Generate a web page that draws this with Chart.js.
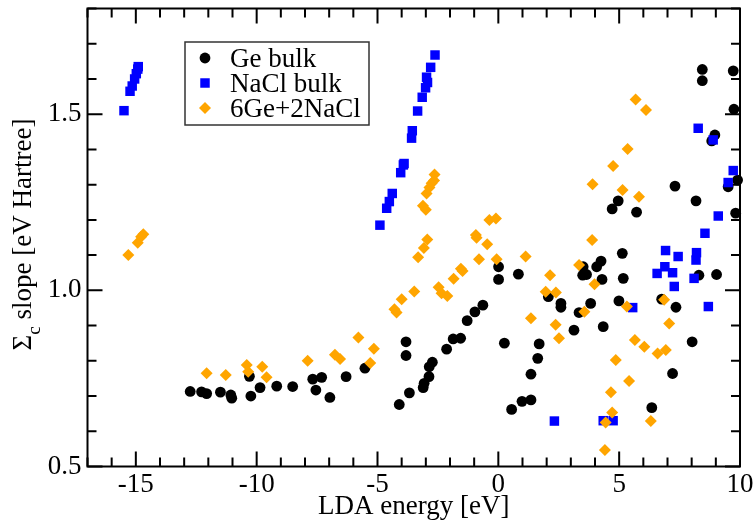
<!DOCTYPE html>
<html>
<head>
<meta charset="utf-8">
<script src="https://cdn.jsdelivr.net/npm/chart.js@4/dist/chart.umd.min.js"></script>
<style>
  html, body { margin: 0; padding: 0; background: #ffffff; }
  #wrap { width: 754px; height: 523px; }
</style>
</head>
<body>
<div id="wrap"><canvas id="c" width="754" height="523"></canvas></div>
<script>
// Series names
const seriesNames = ['Ge bulk', 'NaCl bulk', '6Ge+2NaCl'];

// Ge bulk: LDA energy [eV] and Sigma_c slope
const geX = [-12.75, -12.28, -12.07, -11.5, -11.07, -11.03, -10.24, -10.3, -9.86, -9.17,
  -8.51, -7.68, -7.31, -7.55, -6.97, -6.3, -5.52, -4.1, -3.68, -3.11,
  -3.07, -2.87, -2.86, -2.73, -3.82, -3.82, -2.14, -1.87, -1.56, -1.29,
  -0.97, -0.64, 0.01, 0.01, 0.25, 0.83, 0.55, 0.98, 1.35, 1.35,
  1.63, 1.69, 2.07, 2.59, 2.59, 3.13, 3.34, 3.51, 3.49, 3.65,
  3.82, 4.07, 4.25, 4.29, 4.34, 4.99, 5.13, 5.17, 6.35, 6.76,
  7.35, 8.02, 7.21, 8.3, 9.03, 8.44, 8.44, 9.72, 9.75, 8.96,
  8.83, 9.9, 9.51, 7.31, 8.18, 4.96, 4.71, 5.72, 9.82];
const geY = [0.713, 0.712, 0.707, 0.711, 0.703, 0.694, 0.700, 0.756, 0.724, 0.728,
  0.727, 0.748, 0.753, 0.717, 0.696, 0.755, 0.779, 0.676, 0.709, 0.724,
  0.736, 0.755, 0.783, 0.796, 0.854, 0.815, 0.833, 0.862, 0.864, 0.914,
  0.939, 0.958, 1.067, 1.031, 0.850, 1.046, 0.662, 0.685, 0.689, 0.762,
  0.807, 0.848, 0.982, 0.963, 0.952, 0.887, 0.937, 1.067, 1.043, 1.045,
  0.963, 1.067, 1.083, 1.031, 0.897, 0.970, 1.105, 1.034, 0.667, 0.975,
  0.952, 0.854, 0.764, 1.043, 1.045, 1.627, 1.595, 1.623, 1.514, 1.441,
  1.424, 1.313, 1.294, 1.296, 1.254, 1.254, 1.231, 1.222, 1.219];

// NaCl bulk
const naclX = [-15.49, -15.24, -15.15, -15.05, -14.98, -14.92, -14.9,
  -4.9, -4.62, -4.51, -4.39, -4.04, -3.93, -3.9, -3.59, -3.56, -3.34, -3.15,
  -3.01, -2.97, -2.93, -2.8, -2.62,
  2.32, 4.34, 4.75, 5.56,
  6.57, 6.89, 6.92, 7.21, 7.28, 7.44, 8.1, 8.18, 8.2, 8.55, 8.69, 9.1,
  8.27, 8.89, 9.72, 9.51];
const naclY = [1.510, 1.565, 1.580, 1.600, 1.615, 1.628, 1.635,
  1.185, 1.233, 1.252, 1.275, 1.334, 1.356, 1.360, 1.432, 1.453, 1.509, 1.548,
  1.575, 1.605, 1.590, 1.633, 1.668,
  0.629, 0.630, 0.630, 0.951,
  1.048, 1.067, 1.113, 1.050, 1.011, 1.096, 1.034, 1.086, 1.107, 1.162, 0.954, 1.211,
  1.460, 1.427, 1.340, 1.306];

// 6Ge+2NaCl
const mixX = [-15.31, -14.92, -14.78, -14.69,
  -12.07, -11.28, -10.41, -10.35, -9.77, -9.59, -7.89, -6.76, -6.55, -5.79, -5.15, -5.3,
  -4.3, -4.21, -4.0, -3.48, -3.32, -3.08, -2.94, -3.12, -3.0, -2.97, -2.85, -2.76, -2.66, -2.64,
  -2.47, -2.35, -2.11, -1.85, -1.55, -1.48, -0.93, -0.9, -0.46, -0.8, -0.37, -0.1, -0.07, 1.13, 1.35,
  3.88, 3.34, 2.14, 1.96, 2.38, 3.98, 2.37, 2.51, 3.56, 5.32, 6.86, 7.07, 5.65, 6.04, 6.59, 6.93,
  4.86, 5.41, 4.66, 4.71, 4.44, 6.31, 4.41,
  5.68, 6.11, 5.35, 4.75, 3.9, 5.14, 5.82];
const mixY = [1.100, 1.135, 1.152, 1.159,
  0.765, 0.760, 0.788, 0.769, 0.783, 0.753, 0.800, 0.817, 0.805, 0.866, 0.834, 0.794,
  0.946, 0.937, 0.975, 0.997, 1.094, 1.120, 1.144, 1.240, 1.229, 1.275, 1.292, 1.304, 1.312, 1.329,
  1.009, 0.992, 0.984, 1.033, 1.061, 1.055, 1.157, 1.149, 1.131, 1.088, 1.200, 1.204, 1.088, 1.096, 0.921,
  1.143, 1.072, 1.043, 0.996, 0.994, 1.017, 0.902, 0.864, 0.939, 0.954, 0.973, 0.906, 0.859, 0.840, 0.821, 0.831,
  0.802, 0.743, 0.711, 0.653, 0.625, 0.629, 0.547,
  1.542, 1.512, 1.401, 1.353, 1.301, 1.285, 1.266];

// Axis ranges and labelled ticks
const xRange = [-17, 10];
const yRange = [0.5, 1.8];
const xTickVals = [-15, -10, -5, 0, 5, 10];
const yTickVals = [0.5, 1.0, 1.5];

const SERIF = '"Liberation Serif", "Times New Roman", serif';
const toPts = (xs, ys) => xs.map((x, i) => ({ x: x, y: ys[i] }));

// Frame plus inward ticks (major and minor) on all four sides
const framePlugin = {
  id: 'frameTicks',
  beforeDatasetsDraw(chart) {
    const { ctx, chartArea: a, scales: { x, y } } = chart;
    ctx.save();
    ctx.strokeStyle = '#000';
    ctx.lineWidth = 2;
    ctx.beginPath();
    for (let i = Math.ceil(xRange[0]); i <= xRange[1]; i++) {
      const px = x.getPixelForValue(i);
      const len = (i % 5 === 0) ? 15 : 9;
      ctx.moveTo(px, a.bottom); ctx.lineTo(px, a.bottom - len);
      ctx.moveTo(px, a.top); ctx.lineTo(px, a.top + len);
    }
    for (let j = Math.round(yRange[0] * 10); j <= Math.round(yRange[1] * 10); j++) {
      const py = y.getPixelForValue(j / 10);
      const len = (j % 5 === 0) ? 15 : 9;
      ctx.moveTo(a.left, py); ctx.lineTo(a.left + len, py);
      ctx.moveTo(a.right, py); ctx.lineTo(a.right - len, py);
    }
    ctx.stroke();
    ctx.strokeRect(a.left, a.top, a.right - a.left, a.bottom - a.top);
    ctx.restore();
  }
};

// Y title with subscript, and the boxed legend inside the plot
const textPlugin = {
  id: 'extraText',
  afterDraw(chart) {
    const { ctx, chartArea: a } = chart;
    ctx.save();
    ctx.fillStyle = '#000';
    const big = '27px ' + SERIF, small = '19px ' + SERIF;
    const rest = ' slope [eV Hartree]';
    ctx.font = big;
    const w1 = ctx.measureText('\u03A3').width;
    const w3 = ctx.measureText(rest).width;
    ctx.font = small;
    const w2 = ctx.measureText('c').width;
    const total = w1 + w2 + w3;
    ctx.translate(31, (a.top + a.bottom) / 2 - 3);
    ctx.rotate(-Math.PI / 2);
    ctx.textBaseline = 'alphabetic';
    ctx.textAlign = 'left';
    let s = -total / 2;
    ctx.font = big; ctx.fillText('\u03A3', s, 0);
    ctx.font = small; ctx.fillText('c', s + w1, 9);
    ctx.font = big; ctx.fillText(rest, s + w1 + w2, 0);
    ctx.restore();

    // legend
    ctx.save();
    ctx.strokeStyle = '#333';
    ctx.lineWidth = 1.5;
    ctx.fillStyle = '#fff';
    ctx.fillRect(185, 42, 184, 83);
    ctx.strokeRect(185, 42, 184, 83);
    chart.data.datasets.forEach((ds, i) => {
      const ry = 58 + i * 25;
      ctx.fillStyle = ds.backgroundColor;
      Chart.helpers.drawPoint(ctx, { pointStyle: ds.pointStyle, radius: ds.pointRadius, rotation: 0, borderWidth: 0 }, 205, ry);
      ctx.fillStyle = '#000';
      ctx.font = '27px ' + SERIF;
      ctx.textBaseline = 'alphabetic';
      ctx.textAlign = 'left';
      ctx.fillText(ds.label, 230, ry + 9);
    });
    ctx.restore();
  }
};

const tickFont = { family: SERIF, size: 27, lineHeight: 1 };

new Chart(document.getElementById('c'), {
  type: 'scatter',
  data: {
    datasets: [
      { label: seriesNames[0], data: toPts(geX, geY), pointStyle: 'circle', pointRadius: 5.4,
        backgroundColor: '#000000', borderColor: '#000000', borderWidth: 0, order: 2, clip: false },
      { label: seriesNames[1], data: toPts(naclX, naclY), pointStyle: 'rect', pointRadius: 6.7,
        backgroundColor: '#0000ff', borderColor: '#0000ff', borderWidth: 0, order: 1, clip: false },
      { label: seriesNames[2], data: toPts(mixX, mixY), pointStyle: 'rectRot', pointRadius: 6,
        backgroundColor: '#ffa500', borderColor: '#ffa500', borderWidth: 0, order: 0, clip: false }
    ]
  },
  options: {
    responsive: false,
    devicePixelRatio: 1,
    animation: false,
    layout: { padding: { left: 0, right: 14, top: 8.5, bottom: 0 } },
    plugins: { legend: { display: false }, tooltip: { enabled: false } },
    elements: { point: { hoverRadius: 0 } },
    scales: {
      x: {
        type: 'linear', position: 'bottom', min: xRange[0], max: xRange[1],
        grid: { display: false, drawTicks: false },
        border: { display: false },
        afterBuildTicks: s => { s.ticks = xTickVals.map(v => ({ value: v })); },
        afterFit: s => { s.height = 56.5; s.paddingLeft = 0; s.paddingRight = 0; },
        ticks: { font: tickFont, color: '#000', padding: 5, maxRotation: 0, autoSkip: false,
                 callback: v => String(v) },
        title: { display: true, text: 'LDA energy [eV]', color: '#000',
                 font: { family: SERIF, size: 27, lineHeight: 1.2 }, padding: { top: 0, bottom: 0 } }
      },
      y: {
        type: 'linear', position: 'left', min: yRange[0], max: yRange[1],
        grid: { display: false, drawTicks: false },
        border: { display: false },
        afterBuildTicks: s => { s.ticks = yTickVals.map(v => ({ value: v })); },
        afterFit: s => { s.width = 87.5; s.paddingTop = 0; s.paddingBottom = 0; },
        ticks: { font: tickFont, color: '#000', padding: 6, autoSkip: false,
                 callback: v => Number(v).toFixed(1) }
      }
    }
  },
  plugins: [framePlugin, textPlugin]
});
</script>
</body>
</html>
